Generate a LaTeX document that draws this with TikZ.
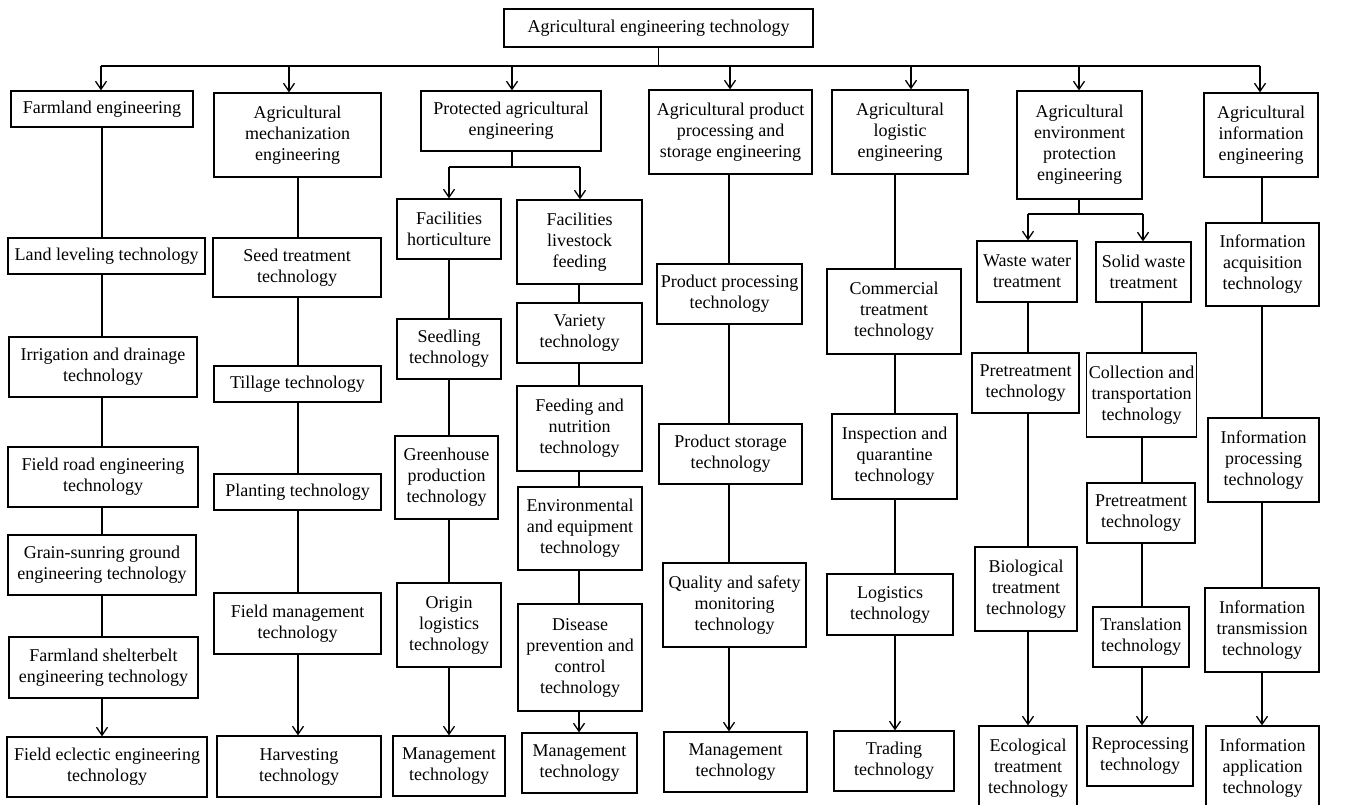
\documentclass[tikz,border=0pt]{standalone}
\usepackage{fontspec}
\setmainfont{Liberation Serif}
\usetikzlibrary{arrows.meta}
\tikzset{
  box/.style={draw, line width=1.3pt, align=center, inner xsep=2pt, inner ysep=1pt,
    font=\fontsize{18}{21}\selectfont},
  con/.style={line width=1.3pt},
  arr/.style={line width=1.3pt, -{Straight Barb[length=8pt,width=11pt]}}
}
\newcommand\mybox[6]{%
  \pgfmathsetmacro\mbw{#4-#2}%
  \pgfmathsetmacro\mbh{#5-#3}%
  \pgfmathsetmacro\mbx{(#2+#4)/2}%
  \pgfmathsetmacro\mby{(#3+#5)/2}%
  \node[box,minimum width=\mbw pt,minimum height=\mbh pt] (#1) at (\mbx,\mby) {#6};}
\begin{document}
\begin{tikzpicture}[x=1pt,y=-1pt]
\useasboundingbox (0,0) rectangle (1346,804);
% top
\mybox{top}{504}{9}{813}{47}{Agricultural engineering technology}
% level 1
\mybox{c1}{11}{91}{193}{127}{Farmland engineering}
\mybox{c2}{214}{93}{381}{177}{Agricultural\\mechanization\\engineering}
\mybox{c3}{421}{91}{601}{151}{Protected agricultural\\engineering}
\mybox{c4}{649}{90}{812}{174}{Agricultural product\\processing and\\storage engineering}
\mybox{c5}{832}{90}{968}{174}{Agricultural\\logistic\\engineering}
\mybox{c6}{1017}{91}{1142}{199}{Agricultural\\environment\\protection\\engineering}
\mybox{c7}{1204}{93}{1318}{177}{Agricultural\\information\\engineering}
% column 1
\mybox{a1}{8}{238}{205}{274}{Land leveling technology}
\mybox{a2}{9}{337}{197}{397}{Irrigation and drainage\\technology}
\mybox{a3}{8}{447}{198}{507}{Field road engineering\\technology}
\mybox{a4}{8}{535}{196}{595}{Grain-sunring ground\\engineering technology}
\mybox{a5}{9}{637}{198}{698}{Farmland shelterbelt\\engineering technology}
\mybox{a6}{7}{737}{207}{797}{Field eclectic engineering\\technology}
% column 2
\mybox{b1}{213}{238}{381}{297}{Seed treatment\\technology}
\mybox{b2}{214}{366}{381}{402}{Tillage technology}
\mybox{b3}{214}{474}{381}{510}{Planting technology}
\mybox{b4}{214}{593}{381}{654}{Field management\\technology}
\mybox{b5}{217}{736}{381}{797}{Harvesting\\technology}
% column 3a
\mybox{h0}{397}{199}{501}{259}{Facilities\\horticulture}
\mybox{h1}{397}{319}{501}{379}{Seedling\\technology}
\mybox{h2}{395}{436}{498}{519}{Greenhouse\\production\\technology}
\mybox{h3}{397}{583}{501}{667}{Origin\\logistics\\technology}
\mybox{h4}{393}{736}{505}{796}{Management\\technology}
% column 3b
\mybox{l0}{517}{200}{642}{284}{Facilities\\livestock\\feeding}
\mybox{l1}{517}{303}{642}{363}{Variety\\technology}
\mybox{l2}{517}{386}{642}{471}{Feeding and\\nutrition\\technology}
\mybox{l3}{518}{487}{642}{570}{Environmental\\and equipment\\technology}
\mybox{l4}{518}{604}{642}{711}{Disease\\prevention and\\control\\technology}
\mybox{l5}{522}{733}{637}{793}{Management\\technology}
% column 4
\mybox{d1}{657}{264}{802}{324}{Product processing\\technology}
\mybox{d2}{659}{424}{802}{484}{Product storage\\technology}
\mybox{d3}{663}{563}{806}{647}{Quality and safety\\monitoring\\technology}
\mybox{d4}{664}{732}{807}{792}{Management\\technology}
% column 5
\mybox{e1}{827}{269}{961}{354}{Commercial\\treatment\\technology}
\mybox{e2}{832}{414}{957}{499}{Inspection and\\quarantine\\technology}
\mybox{e3}{827}{574}{953}{635}{Logistics\\technology}
\mybox{e4}{834}{731}{954}{791}{Trading\\technology}
% column 6a
\mybox{w0}{977}{241}{1077}{302}{Waste water\\treatment}
\mybox{w1}{972}{353}{1079}{413}{Pretreatment\\technology}
\mybox{w2}{975}{547}{1077}{631}{Biological\\treatment\\technology}
\mybox{w3}{979}{726}{1077}{811}{Ecological\\treatment\\technology}
% column 6b
\mybox{s0}{1096}{242}{1191}{302}{Solid waste\\treatment}
\mybox{s1}{1087}{353}{1196}{437}{Collection and\\transportation\\technology}
\mybox{s2}{1087}{483}{1195}{543}{Pretreatment\\technology}
\mybox{s3}{1093}{607}{1189}{667}{Translation\\technology}
\mybox{s4}{1087}{726}{1193}{786}{Reprocessing\\technology}
% column 7
\mybox{i1}{1206}{223}{1319}{306}{Information\\acquisition\\technology}
\mybox{i2}{1208}{418}{1319}{502}{Information\\processing\\technology}
\mybox{i3}{1205}{588}{1319}{672}{Information\\transmission\\technology}
\mybox{i4}{1206}{726}{1319}{811}{Information\\application\\technology}
% coordinates
\coordinate (bus) at (658,66);
\coordinate (t1) at (101,66);
\coordinate (t2) at (289,66);
\coordinate (t3) at (512,66);
\coordinate (t4) at (730,66);
\coordinate (t5) at (911,66);
\coordinate (t6) at (1079,66);
\coordinate (t7) at (1260,66);
\coordinate (k1) at (102,0);
\coordinate (k2) at (298,0);
\coordinate (k3a) at (449,0);
\coordinate (k3b) at (579,0);
\coordinate (k4) at (729,0);
\coordinate (k5) at (895,0);
\coordinate (k6a) at (1028,0);
\coordinate (k6b) at (1142,0);
\coordinate (k7) at (1262,0);
\coordinate (j3) at (512,167);
\coordinate (j3a) at (449,167);
\coordinate (j3b) at (580,167);
\coordinate (j6) at (1079,214);
\coordinate (j6a) at (1028,214);
\coordinate (j6b) at (1143,214);
% bus
\draw[con] (top.south) -- (top.south |- bus);
\draw[con] (t1) -- (t7);
\draw[arr] (t1) -- (t1 |- c1.north);
\draw[arr] (t2) -- (t2 |- c2.north);
\draw[arr] (t3) -- (t3 |- c3.north);
\draw[arr] (t4) -- (t4 |- c4.north);
\draw[arr] (t5) -- (t5 |- c5.north);
\draw[arr] (t6) -- (t6 |- c6.north);
\draw[arr] (t7) -- (t7 |- c7.north);
% column 1
\foreach \u/\v in {c1/a1,a1/a2,a2/a3,a3/a4,a4/a5}
  \draw[con] (\u.south -| k1) -- (\v.north -| k1);
\draw[arr] (a5.south -| k1) -- (a6.north -| k1);
% column 2
\foreach \u/\v in {c2/b1,b1/b2,b2/b3,b3/b4}
  \draw[con] (\u.south -| k2) -- (\v.north -| k2);
\draw[arr] (b4.south -| k2) -- (b5.north -| k2);
% column 3
\draw[con] (c3.south -| j3) -- (j3);
\draw[con] (j3a) -- (j3b);
\draw[arr] (j3a) -- (j3a |- h0.north);
\draw[arr] (j3b) -- (j3b |- l0.north);
\foreach \u/\v in {h0/h1,h1/h2,h2/h3}
  \draw[con] (\u.south -| k3a) -- (\v.north -| k3a);
\draw[arr] (h3.south -| k3a) -- (h4.north -| k3a);
\foreach \u/\v in {l0/l1,l1/l2,l2/l3,l3/l4}
  \draw[con] (\u.south -| k3b) -- (\v.north -| k3b);
\draw[arr] (l4.south -| k3b) -- (l5.north -| k3b);
% column 4
\foreach \u/\v in {c4/d1,d1/d2,d2/d3}
  \draw[con] (\u.south -| k4) -- (\v.north -| k4);
\draw[arr] (d3.south -| k4) -- (d4.north -| k4);
% column 5
\foreach \u/\v in {c5/e1,e1/e2,e2/e3}
  \draw[con] (\u.south -| k5) -- (\v.north -| k5);
\draw[arr] (e3.south -| k5) -- (e4.north -| k5);
% column 6
\draw[con] (c6.south -| j6) -- (j6);
\draw[con] (j6a) -- (j6b);
\draw[arr] (j6a) -- (j6a |- w0.north);
\draw[arr] (j6b) -- (j6b |- s0.north);
\foreach \u/\v in {w0/w1,w1/w2}
  \draw[con] (\u.south -| k6a) -- (\v.north -| k6a);
\draw[arr] (w2.south -| k6a) -- (w3.north -| k6a);
\foreach \u/\v in {s0/s1,s1/s2,s2/s3}
  \draw[con] (\u.south -| k6b) -- (\v.north -| k6b);
\draw[arr] (s3.south -| k6b) -- (s4.north -| k6b);
% column 7
\foreach \u/\v in {c7/i1,i1/i2,i2/i3}
  \draw[con] (\u.south -| k7) -- (\v.north -| k7);
\draw[arr] (i3.south -| k7) -- (i4.north -| k7);
\end{tikzpicture}
\end{document}
